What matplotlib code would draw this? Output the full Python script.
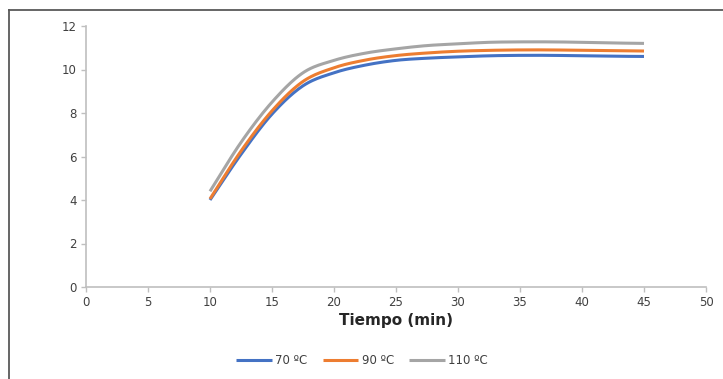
import numpy as np
import matplotlib
matplotlib.use("Agg")
import matplotlib.pyplot as plt
from matplotlib.lines import Line2D

# Data
tiempo = [10, 12.5, 15, 17.5, 20, 22.5, 25, 27.5, 30, 32.5, 35, 37.5, 40, 42.5, 45]
serie_70 = [4.0, 6.1, 7.95, 9.25, 9.85, 10.2, 10.42, 10.52, 10.58, 10.63, 10.65, 10.65, 10.63, 10.61, 10.6]
serie_90 = [4.05, 6.25, 8.1, 9.45, 10.08, 10.43, 10.64, 10.76, 10.84, 10.88, 10.9, 10.9, 10.88, 10.86, 10.85]
serie_110 = [4.4, 6.65, 8.5, 9.85, 10.42, 10.75, 10.95, 11.1, 11.18, 11.25, 11.27, 11.27, 11.25, 11.22, 11.2]
etiquetas = ["70 ºC", "90 ºC", "110 ºC"]
colores = ["#4472C4", "#ED7D31", "#A5A5A5"]


def smooth(x, y, n=20):
    """Catmull-Rom rendering of a smoothed line (like Excel's smoothed lines)."""
    x = np.asarray(x, float)
    y = np.asarray(y, float)
    px = np.concatenate([[2 * x[0] - x[1]], x, [2 * x[-1] - x[-2]]])
    py = np.concatenate([[2 * y[0] - y[1]], y, [2 * y[-1] - y[-2]]])
    xs, ys = [], []
    t = np.linspace(0, 1, n, endpoint=False)
    for i in range(1, len(px) - 2):
        p0, p1, p2, p3 = (np.array([px[j], py[j]]) for j in range(i - 1, i + 3))
        seg = 0.5 * ((2 * p1)[:, None] + (-p0 + p2)[:, None] * t
                     + (2 * p0 - 5 * p1 + 4 * p2 - p3)[:, None] * t ** 2
                     + (-p0 + 3 * p1 - 3 * p2 + p3)[:, None] * t ** 3)
        xs.extend(seg[0]); ys.extend(seg[1])
    xs.append(x[-1]); ys.append(y[-1])
    return np.array(xs), np.array(ys)


fig = plt.figure(figsize=(7.23, 3.79), dpi=100)
ax = fig.add_axes([86 / 723, 1 - 287 / 379, (706 - 86) / 723, (287 - 26) / 379])

for serie, lab, col in zip([serie_70, serie_90, serie_110], etiquetas, colores):
    sx, sy = smooth(tiempo, serie)
    ax.plot(sx, sy, color=col, lw=2.2, label=lab, solid_capstyle="butt")

ax.set_xlim(0, 50)
ax.set_ylim(0, 12)
ax.set_xticks(range(0, 51, 5))
ax.set_yticks(range(0, 13, 2))
for s in ["top", "right"]:
    ax.spines[s].set_visible(False)
for s in ["left", "bottom"]:
    ax.spines[s].set_color("#BFBFBF")
    ax.spines[s].set_linewidth(1.2)
ax.tick_params(axis="both", colors="#BFBFBF", labelcolor="#404040", labelsize=8.5,
               length=3.5, width=1.0, direction="out", pad=3)
ax.set_xlabel("Tiempo (min)", fontsize=11, fontweight="bold", color="#262626", labelpad=3)

leg = fig.legend(loc="center", bbox_to_anchor=(362 / 723, 1 - 361 / 379), ncol=3,
                 frameon=False, fontsize=8.5, handlelength=3.0, columnspacing=1.3,
                 handletextpad=0.3)
for t in leg.get_texts():
    t.set_color("#404040")

# outer chart border (partially cropped in the reference)
fig.add_artist(Line2D([9 / 723, 9 / 723], [0, 1 - 10 / 379], transform=fig.transFigure,
                      color="#595959", lw=1.3))
fig.add_artist(Line2D([9 / 723, 1], [1 - 10 / 379, 1 - 10 / 379], transform=fig.transFigure,
                      color="#595959", lw=1.3))

fig.savefig("out.png", dpi=100)
